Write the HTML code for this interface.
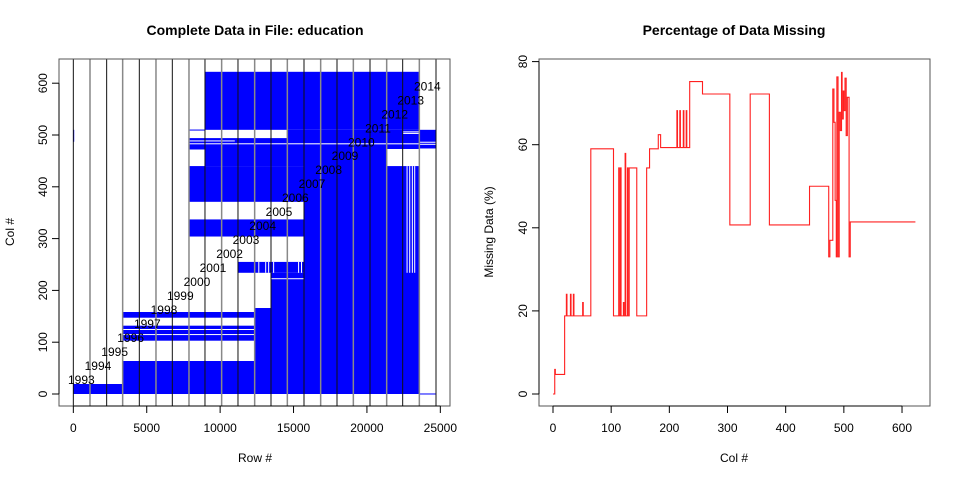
<!DOCTYPE html>
<html><head><meta charset="utf-8"><style>
body{margin:0;background:#fff}
svg{display:block;font-family:"Liberation Sans",Arial,sans-serif}
</style></head><body>
<svg id="s" width="960" height="480">
<rect width="960" height="480" fill="#fff"/>
<text x="255" y="35" text-anchor="middle" font-size="14" font-weight="bold">Complete Data in File: education</text>
<text x="734" y="35" text-anchor="middle" font-size="14" font-weight="bold">Percentage of Data Missing</text>
<text x="255" y="462" text-anchor="middle" font-size="12">Row #</text>
<text x="734" y="462" text-anchor="middle" font-size="12">Col #</text>
<text transform="translate(14,232) rotate(-90)" text-anchor="middle" font-size="12">Col #</text>
<text transform="translate(493,232) rotate(-90)" text-anchor="middle" font-size="12">Missing Data (%)</text>
<g id="L"></g>
<g id="R"></g>
</svg>
<script>
// left chart data
const yearBoundaries=[0,1135,2270,3360,4495,5630,6743,7878,8968,10103,11216,12352,13465,14578,15713,16848,17961,19074,20210,21345,22435,23570,24705];
const years=[1993,1994,1995,1996,1997,1998,1999,2000,2001,2002,2003,2004,2005,2006,2007,2008,2009,2010,2011,2012,2013,2014];
const presentBlocks=[[0,3360,0,19.3],[3360,13465,0,63.7],[3360,12352,102.9,131.9],[3360,12352,147.3,158.3],[12352,13465,63.7,166],[13465,15713,0,234],[11216,15713,234,255],[7878,15713,304,337],[7878,15713,371,440],[8968,15713,440,494],[7878,8968,472,494],[7878,8968,509,510.5],[8968,23570,510,622],[14578,23570,482,510],[15713,21345,0,482],[21345,23570,0,440],[21345,23570,473,482],[23570,24705,474,510],[23570,24705,0,1],[0,60,487,510]];
const missingBlocks=[[3360,12352,124.5,125.5],[3360,12352,114.7,115.7],[13465,15713,222,223.5],[7878,23570,482.5,484],[7878,11000,488.5,489.5],[23570,24705,482,483],[23570,24705,486,487],[22700,22740,234,440],[22880,22920,234,440],[23060,23100,234,440],[23220,23260,234,440],[12600,12650,234,255],[13070,13120,234,255],[13270,13320,234,255],[13610,13660,234,255],[15310,15360,234,255],[15510,15560,234,255],[22435,23570,503,504],[22435,23570,506,507]];
const leftXTicks=[0,5000,10000,15000,20000,25000];
const leftYTicks=[0,100,200,300,400,500,600];
// right chart data
const stepCols=[0,3,4,20,23,24,30,31,35,36,51,52,65,104,113,114,116,117,121,122,124,125,128,129,131,144,161,166,181,185,213,214,218,219,224,225,229,230,235,257,304,339,372,441,474,476,481,483,485,487,488,490,492,494,496,497,499,500,502,504,506,509,511,623];
const stepVals=[0,5.9,4.7,18.8,24,18.8,24,18.8,24,18.8,22,18.8,59,18.8,54.4,18.8,54.4,18.8,22,18.8,57.9,18.8,54.4,18.8,54.4,18.8,54.4,59,62.4,59.3,68.2,59.3,68.2,59.3,68.2,59.3,68.2,59.3,75.2,72.2,40.7,72.2,40.7,50,33,37,73.4,65.4,46.6,33,76.3,33,67.8,63.4,77.4,66.2,72.9,68.2,76,62.2,71.4,33,41.4,41.4];
const rightXTicks=[0,100,200,300,400,500,600];
const rightYTicks=[0,20,40,60,80];

const NS="http://www.w3.org/2000/svg";
function mk(p,t,a){const e=document.createElementNS(NS,t);for(const k in a)e.setAttribute(k,a[k]);p.appendChild(e);return e;}
const L=document.getElementById('L'),R=document.getElementById('R');
const lx=r=>73.33+r*367/25000, ly=c=>394-c*0.518;
const rx=c=>553+c*0.5817, ry=v=>394-v*4.155;

presentBlocks.forEach(b=>{const e=mk(L,'rect',{x:lx(b[0]),y:ly(b[3]),width:lx(b[1])-lx(b[0]),height:Math.max(ly(b[2])-ly(b[3]),1),fill:'#0000ff'});

});
missingBlocks.forEach(b=>{const e=mk(L,'rect',{x:lx(b[0]),y:ly(b[3]),width:Math.max(lx(b[1])-lx(b[0]),1),height:Math.max(ly(b[2])-ly(b[3]),1),fill:'#fff'});

});
yearBoundaries.forEach((r,i)=>{const e=mk(L,'line',{x1:lx(r),x2:lx(r),y1:59,y2:406,stroke:i%2?'#888':'#111','stroke-width':i%2?1.5:1});

});
years.forEach((y,i)=>{const e=mk(L,'text',{x:lx(yearBoundaries[i])+8,y:ly(27*(i+1))+4,'text-anchor':'middle','font-size':12});e.textContent=y;

});
mk(L,'rect',{x:59,y:59,width:391,height:347,fill:'none',stroke:'#555'});
leftXTicks.forEach(t=>{mk(L,'line',{x1:lx(t),x2:lx(t),y1:406,y2:413,stroke:'#000'});const e=mk(L,'text',{x:lx(t),y:432,'text-anchor':'middle','font-size':12});e.textContent=t;

});
mk(L,'line',{x1:lx(0),x2:lx(25000),y1:406,y2:406,stroke:'#000'});
leftYTicks.forEach(t=>{mk(L,'line',{x1:52,x2:59,y1:ly(t),y2:ly(t),stroke:'#000'});const e=mk(L,'text',{transform:`translate(${47},${ly(t)}) rotate(-90)`,'text-anchor':'middle','font-size':12});e.textContent=t;

});
mk(L,'line',{x1:59,x2:59,y1:ly(0),y2:ly(600),stroke:'#000'});

let d='M'+rx(stepCols[0])+' '+ry(stepVals[0]);
for(let i=1;i<stepCols.length;i++){d+=' L'+rx(stepCols[i])+' '+ry(stepVals[i-1])+' L'+rx(stepCols[i])+' '+ry(stepVals[i]);}
const ln=mk(R,'path',{d:d,fill:'none',stroke:'#ff2020','stroke-width':1.1});


mk(R,'rect',{x:539,y:59,width:391,height:347,fill:'none',stroke:'#555'});
rightXTicks.forEach(t=>{mk(R,'line',{x1:rx(t),x2:rx(t),y1:406,y2:413,stroke:'#000'});const e=mk(R,'text',{x:rx(t),y:432,'text-anchor':'middle','font-size':12});e.textContent=t;

});
mk(R,'line',{x1:rx(0),x2:rx(600),y1:406,y2:406,stroke:'#000'});
rightYTicks.forEach(t=>{mk(R,'line',{x1:532,x2:539,y1:ry(t),y2:ry(t),stroke:'#000'});const e=mk(R,'text',{transform:`translate(${527},${ry(t)}) rotate(-90)`,'text-anchor':'middle','font-size':12});e.textContent=t;

});
mk(R,'line',{x1:539,x2:539,y1:ry(0),y2:ry(80),stroke:'#000'});
</script>
</body></html>
